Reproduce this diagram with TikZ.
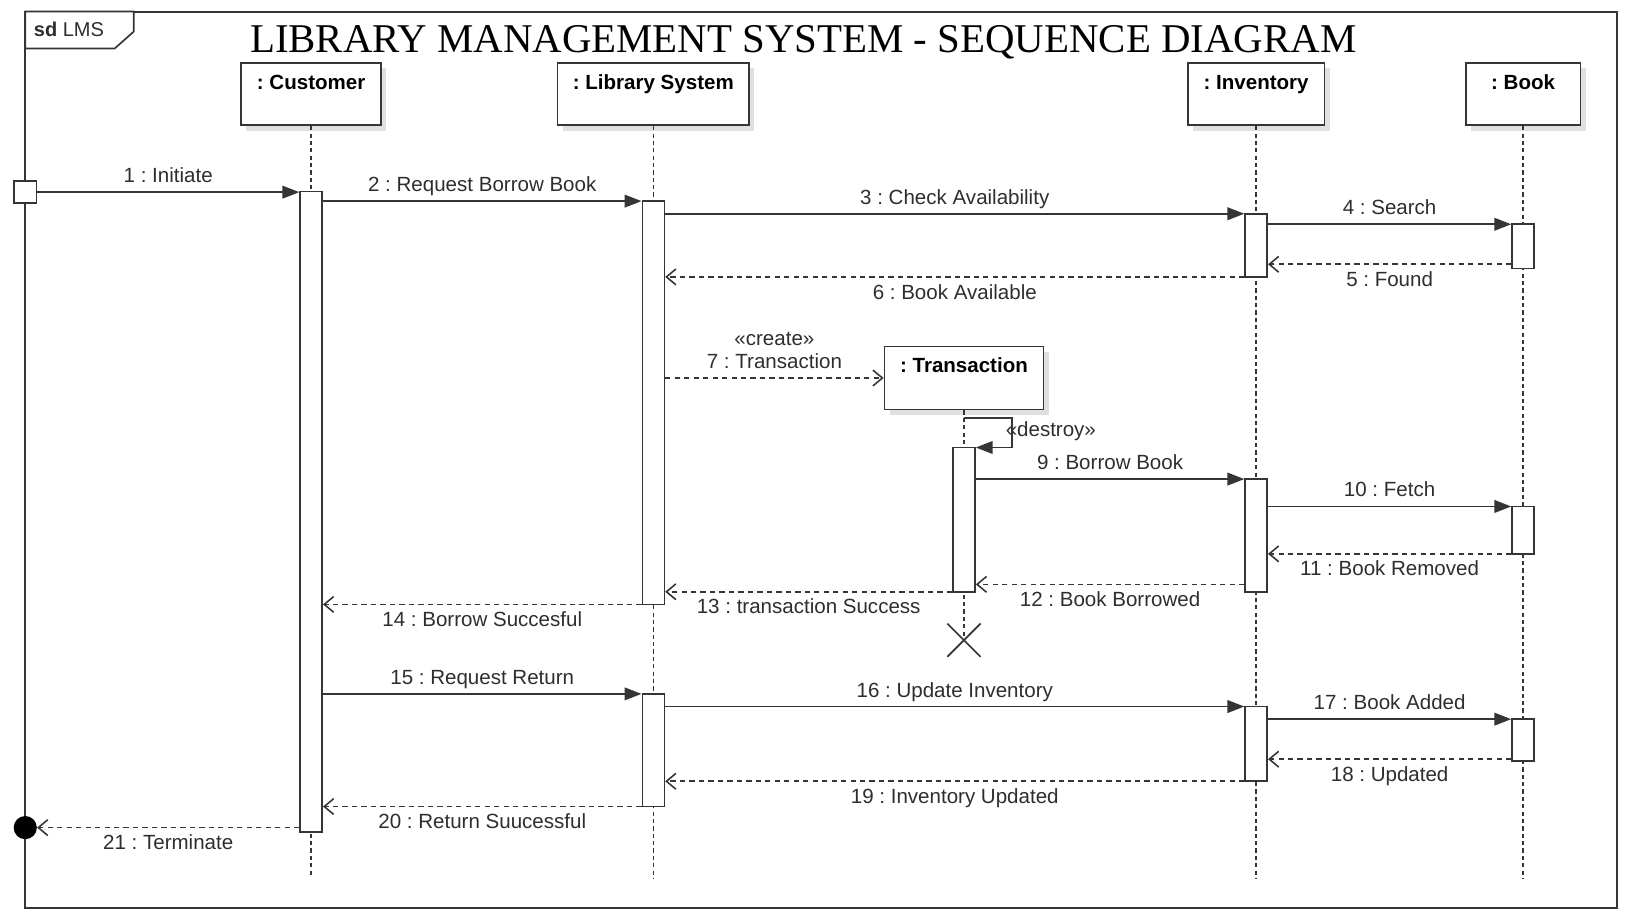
\documentclass[tikz,border=0pt]{standalone}
\usepackage{fontspec}
\setmainfont{Liberation Sans}
\newfontfamily\titlefont{Liberation Serif}
\usetikzlibrary{arrows.meta,shapes.misc,shadows,calc}
\definecolor{ln}{HTML}{353535}
\definecolor{tx}{HTML}{2E2E2E}
\frenchspacing
\begin{document}
\begin{tikzpicture}[x=1pt,y=-1pt,
  head/.style={draw=ln, line width=1.6pt, fill=white, rectangle, inner sep=0pt,
    drop shadow={shadow xshift=5pt, shadow yshift=-5pt, opacity=0.12, fill=black}},
  act/.style={draw=ln, line width=1.5pt, fill=white, rectangle, minimum width=21pt, inner sep=0pt},
  life/.style={ln, line width=1.4pt, dash pattern=on 4pt off 3pt},
  sync/.style={ln, line width=1.6pt, -{Triangle[length=16pt,width=12pt]}},
  reply/.style={ln, line width=1.5pt, dash pattern=on 5pt off 4pt, -{Straight Barb[length=9pt,width=15pt,line width=1.5pt]}},
  lbl/.style={font=\fontsize{19.5}{22}\selectfont, text=tx, inner sep=0pt},
  hlbl/.style={font=\fontsize{19.5}{22}\selectfont\bfseries, text=black, inner sep=0pt, anchor=base},
  ab/.style={lbl, anchor=base, yshift=9pt},
  be/.style={lbl, anchor=base, yshift=-21pt}
]
\useasboundingbox (0,0) rectangle (1568,869);
\fill[white] (0,0) rectangle (1568,869);

% frame
\draw[ln, line width=2pt] (24,11) rectangle (1536,862);
\draw[ln, line width=1.6pt, fill=white] (24,11) -- (127,11) -- (127,30) -- (109,46) -- (24,46) -- cycle;
\node[anchor=base west, font=\fontsize{19}{22}\selectfont, text=tx, inner sep=0pt] (sd) at (32,35) {\textbf{sd} LMS};

% title
\node[font=\titlefont\fontsize{38.8}{44}\selectfont, text=black, anchor=base, inner sep=0pt] (title) at (763,50) {LIBRARY MANAGEMENT SYSTEM - SEQUENCE DIAGRAM};

% heads
\node[head, minimum width=133pt, minimum height=59pt] (cu) at (295.5,89.5) {};
\node[head, minimum width=182pt, minimum height=59pt] (ls) at (620.5,89.5) {};
\node[head, minimum width=130pt, minimum height=59pt] (inv) at (1193,89.5) {};
\node[head, minimum width=109pt, minimum height=59pt] (bk) at (1446.5,89.5) {};
\node[head, minimum width=151pt, minimum height=60pt] (tr) at (915.5,359) {};
\node[hlbl] (cuL) at ($(cu.north)+(0,26)$) {: Customer};
\node[hlbl] (lsL) at ($(ls.north)+(0,26)$) {: Library System};
\node[hlbl] (invL) at ($(inv.north)+(0,26)$) {: Inventory};
\node[hlbl] (bkL) at ($(bk.north)+(0,26)$) {: Book};
\node[hlbl] (trL) at ($(tr.north)+(0,26)$) {: Transaction};

% destroy marker
\node[cross out, draw=ln, line width=1.6pt, minimum size=30pt, inner sep=0pt] (xd) at (915.5,608) {};

% lifelines
\draw[life] (cu.south) -- (cu.south |- 0,832);
\draw[life] (ls.south) -- (ls.south |- 0,835);
\draw[life] (inv.south) -- (inv.south |- 0,835);
\draw[life] (bk.south) -- (bk.south |- 0,835);
\draw[life] (tr.south) -- (xd.center);

% activations
\node[act, minimum height=608pt] (ca) at (295.5,486) {};
\node[act, minimum height=383pt] (la1) at (620.5,382.5) {};
\node[act, minimum height=107pt] (la2) at (620.5,712.5) {};
\node[act, minimum height=60pt] (ia1) at (1193,233) {};
\node[act, minimum height=107pt] (ia2) at (1193,508.5) {};
\node[act, minimum height=71pt] (ia3) at (1193,706.5) {};
\node[act, minimum height=42pt] (ba1) at (1446.5,234) {};
\node[act, minimum height=45pt] (ba2) at (1446.5,503.5) {};
\node[act, minimum height=40pt] (ba3) at (1446.5,703) {};
\node[act, minimum height=137pt] (ta) at (915.5,493.5) {};

% start / end
\node[draw=ln, fill=white, line width=1.5pt, minimum size=21pt, inner sep=0pt] (st) at (24,182.5) {};
\node[circle, fill=black, minimum size=22pt, inner sep=0pt] (fin) at (24,786) {};

% messages
\draw[sync] (st.east) -- (ca.west |- st.east) node[midway, ab] {1 : Initiate};
\draw[sync] (ca.east |- 0,191) -- (la1.west |- 0,191) node[midway, ab] {2 : Request Borrow Book};
\draw[sync] (la1.east |- 0,203) -- (ia1.west |- 0,203) node[midway, ab] {3 : Check Availability};
\draw[sync] (ia1.east |- 0,213) -- (ba1.west |- 0,213) node[midway, ab] {4 : Search};
\draw[reply] (ba1.west |- 0,251) -- (ia1.east |- 0,251) node[midway, be] {5 : Found};
\draw[reply] (ia1.west |- 0,263) -- (la1.east |- 0,263) node[midway, be] {6 : Book Available};
\draw[reply] (la1.east |- tr.west) -- (tr.west) node[midway, ab] {7 : Transaction} node[midway, lbl, anchor=base, yshift=31pt] {«create»};
\draw[sync] (tr.south |- 0,397) -- (961,397) -- (961,425) -- (ta.east |- 0,425);
\node[lbl, anchor=base] (dl) at (998,415) {«destroy»};
\draw[sync] (ta.east |- 0,455) -- (ia2.west |- 0,455) node[midway, ab] {9 : Borrow Book};
\draw[sync] (ia2.east |- 0,481) -- (ba2.west |- 0,481) node[midway, ab] {10 : Fetch};
\draw[reply] (ba2.west |- 0,526) -- (ia2.east |- 0,526) node[midway, be] {11 : Book Removed};
\draw[reply] (ia2.west |- 0,555) -- (ta.east |- 0,555) node[midway, be] {12 : Book Borrowed};
\draw[reply] (ta.west |- 0,562) -- (la1.east |- 0,562) node[midway, be] {13 : transaction Success};
\draw[reply] (la1.west |- 0,574) -- (ca.east |- 0,574) node[midway, be] {14 : Borrow Succesful};
\draw[sync] (ca.east |- 0,659) -- (la2.west |- 0,659) node[midway, ab] {15 : Request Return};
\draw[sync] (la2.east |- 0,671) -- (ia3.west |- 0,671) node[midway, ab] {16 : Update Inventory};
\draw[sync] (ia3.east |- 0,683) -- (ba3.west |- 0,683) node[midway, ab] {17 : Book Added};
\draw[reply] (ba3.west |- 0,721) -- (ia3.east |- 0,721) node[midway, be] {18 : Updated};
\draw[reply] (ia3.west |- 0,742) -- (la2.east |- 0,742) node[midway, be] {19 : Inventory Updated};
\draw[reply] (la2.west |- 0,766) -- (ca.east |- 0,766) node[midway, be] {20 : Return Suucessful};
\draw[reply] (ca.west |- fin.east) -- (fin.east) node[midway, be] {21 : Terminate};
\end{tikzpicture}
\end{document}
